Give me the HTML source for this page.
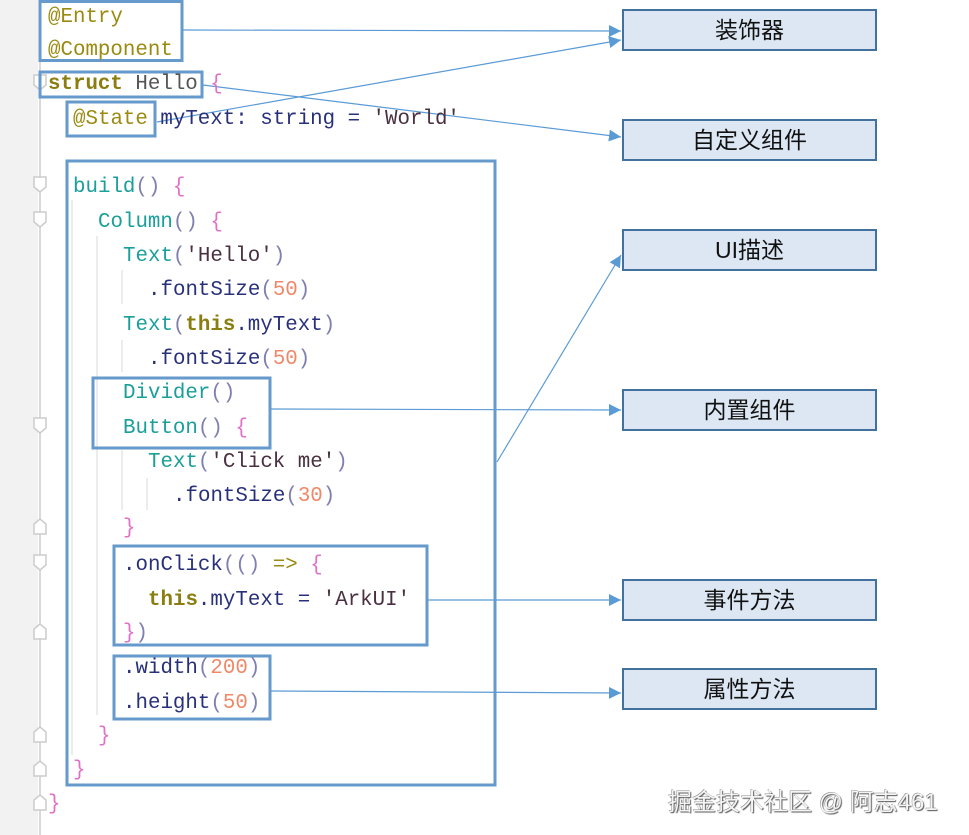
<!DOCTYPE html>
<html><head><meta charset="utf-8"><style>
html,body{margin:0;padding:0;background:#fff;width:969px;height:835px;overflow:hidden;position:relative}
.g{position:absolute;left:0;top:0;width:38px;height:835px;background:#f2f2f2}
.c{position:absolute;font-family:"Liberation Mono",monospace;font-size:20.8px;line-height:24px;white-space:pre;color:#28307a;letter-spacing:0;margin-top:3px}
.a{color:#9a8a10}.k{color:#8a7e10;font-weight:bold}.t{color:#1a9f9a}.p{color:#8080b0}.b{color:#e070c8}.n{color:#f08868}.s{color:#4a3040}.h{color:#555}
.lbl{position:absolute;left:622px;width:255px;height:42px;box-sizing:border-box;border:2px solid #41719c;background:#dce7f3;font-family:"Liberation Sans","Noto Sans CJK SC",sans-serif;font-size:23px;line-height:38px;text-align:center;color:#111}
.wm{position:absolute;left:668px;top:782px;font-family:"Liberation Sans","Noto Sans CJK SC",sans-serif;font-size:24px;color:#f4f4f4;text-shadow:1px 1px 1px #555,-0.5px -0.5px 0 #888;white-space:nowrap}
</style></head><body>
<div class="g"></div>
<svg width="969" height="835" style="position:absolute;left:0;top:0">
<defs><marker id="ar" viewBox="0 0 10 10" refX="10" refY="5" markerWidth="12" markerHeight="12" markerUnits="userSpaceOnUse" orient="auto"><path d="M0,0L10,5L0,10z" fill="#5b9bd5"/></marker></defs>
<line x1="40" y1="0" x2="40" y2="835" stroke="#d9d9d9" stroke-width="2"/>
<g fill="#fff" stroke="#ccc" stroke-width="1.5">
<path d="M34,177h12v10l-6,5l-6,-5z"/><path d="M34,212h12v10l-6,5l-6,-5z"/><path d="M34,418h12v10l-6,5l-6,-5z"/><path d="M34,555h12v10l-6,5l-6,-5z"/>
<path d="M34,534h12v-10l-6,-5l-6,5z"/><path d="M34,639h12v-10l-6,-5l-6,5z"/><path d="M34,742h12v-10l-6,-5l-6,5z"/><path d="M34,776h12v-10l-6,-5l-6,5z"/><path d="M34,810h12v-10l-6,-5l-6,5z"/>
<path d="M34,75h12v10l-6,5l-6,-5z"/>
</g>
<g stroke="#e6e6e6" stroke-width="1.5"><line x1="72" y1="200" x2="72" y2="755"/><line x1="97" y1="236" x2="97" y2="715"/><line x1="122" y1="270" x2="122" y2="304"/><line x1="122" y1="340" x2="122" y2="372"/><line x1="122" y1="450" x2="122" y2="510"/><line x1="147" y1="478" x2="147" y2="510"/></g>
<g fill="none" stroke="#6699cc" stroke-width="3">
<rect x="40" y="1.5" width="142" height="59"/>
<rect x="40" y="72" width="162" height="25"/>
<rect x="67" y="102" width="88" height="34"/>
<rect x="67" y="161" width="428" height="624"/>
<rect x="93" y="378" width="177" height="70"/>
<rect x="114" y="546" width="313" height="99"/>
<rect x="114" y="656" width="156" height="63"/>
</g>
<g stroke="#5b9bd5" stroke-width="1.2" fill="none">
<line x1="183" y1="30" x2="621" y2="31" marker-end="url(#ar)"/>
<line x1="157" y1="122" x2="621" y2="40" marker-end="url(#ar)"/>
<line x1="203" y1="85" x2="621" y2="137" marker-end="url(#ar)"/>
<line x1="497" y1="462" x2="621" y2="255" marker-end="url(#ar)"/>
<line x1="271" y1="409" x2="621" y2="410" marker-end="url(#ar)"/>
<line x1="428" y1="600" x2="621" y2="600" marker-end="url(#ar)"/>
<line x1="271" y1="691" x2="621" y2="693" marker-end="url(#ar)"/>
</g>
</svg>
<div class="c a" style="left:48px;top:3px">@Entry</div>
<div class="c a" style="left:48px;top:36px">@Component</div>
<div class="c" style="left:48px;top:70px"><span class="k">struct</span> <span class="h">Hello</span> <span class="b">{</span></div>
<div class="c" style="left:73px;top:105px"><span class="a">@State</span> myText: string = <span class="s">'World'</span></div>
<div class="c" style="left:73px;top:173px"><span class="t">build</span><span class="p">()</span> <span class="b">{</span></div>
<div class="c" style="left:98px;top:208px"><span class="t">Column</span><span class="p">()</span> <span class="b">{</span></div>
<div class="c" style="left:123px;top:242px"><span class="t">Text</span><span class="p">(</span><span class="s">'Hello'</span><span class="p">)</span></div>
<div class="c" style="left:148px;top:276px">.fontSize<span class="p">(</span><span class="n">50</span><span class="p">)</span></div>
<div class="c" style="left:123px;top:311px"><span class="t">Text</span><span class="p">(</span><span class="k">this</span>.myText<span class="p">)</span></div>
<div class="c" style="left:148px;top:345px">.fontSize<span class="p">(</span><span class="n">50</span><span class="p">)</span></div>
<div class="c" style="left:123px;top:379px"><span class="t">Divider</span><span class="p">()</span></div>
<div class="c" style="left:123px;top:414px"><span class="t">Button</span><span class="p">()</span> <span class="b">{</span></div>
<div class="c" style="left:148px;top:448px"><span class="t">Text</span><span class="p">(</span><span class="s">'Click me'</span><span class="p">)</span></div>
<div class="c" style="left:173px;top:482px">.fontSize<span class="p">(</span><span class="n">30</span><span class="p">)</span></div>
<div class="c b" style="left:123px;top:514px">}</div>
<div class="c" style="left:123px;top:551px">.onClick<span class="p">(()</span> <span class="a">=&gt;</span> <span class="b">{</span></div>
<div class="c" style="left:148px;top:586px"><span class="k">this</span>.myText = <span class="s">'ArkUI'</span></div>
<div class="c" style="left:123px;top:619px"><span class="b">}</span><span class="p">)</span></div>
<div class="c" style="left:123px;top:654px">.width<span class="p">(</span><span class="n">200</span><span class="p">)</span></div>
<div class="c" style="left:123px;top:689px">.height<span class="p">(</span><span class="n">50</span><span class="p">)</span></div>
<div class="c b" style="left:98px;top:722px">}</div>
<div class="c b" style="left:73px;top:756px">}</div>
<div class="c b" style="left:48px;top:790px">}</div>
<div class="lbl" style="top:9px">装饰器</div>
<div class="lbl" style="top:119px">自定义组件</div>
<div class="lbl" style="top:229px">UI描述</div>
<div class="lbl" style="top:389px">内置组件</div>
<div class="lbl" style="top:579px">事件方法</div>
<div class="lbl" style="top:668px">属性方法</div>
<div class="wm">掘金技术社区 @ 阿志461</div>
</body></html>
